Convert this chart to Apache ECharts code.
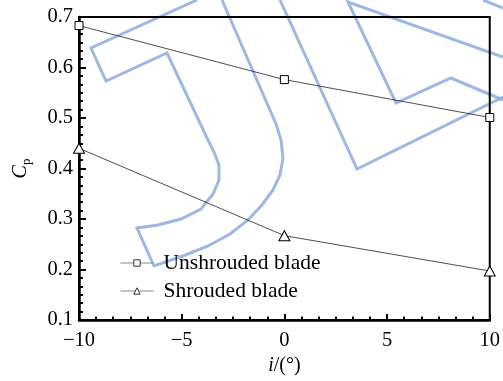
<!DOCTYPE html>
<html>
<head>
<meta charset="utf-8">
<script src="https://cdn.jsdelivr.net/npm/echarts@6/dist/echarts.min.js"></script>
<style>html,body{margin:0;padding:0;background:#fff;}#c{width:503px;height:381px;}</style>
</head>
<body>
<div id="c"></div>
<script>
var incidence = [-10, 0, 10];
var unshrouded = [0.683, 0.576, 0.501];
var shrouded = [0.440, 0.267, 0.197];
var xTicks = [-10, -5, 0, 5, 10];
var yTicks = [0.1, 0.2, 0.3, 0.4, 0.5, 0.6, 0.7];

function pairs(xs, ys) { return xs.map(function (x, i) { return [x, ys[i]]; }); }

var font = 'Liberation Serif';
var blue = 'rgba(140,172,222,0.85)';
function pl(points) {
  return { type: 'polyline', z: -10, silent: true,
    shape: { points: points },
    style: { stroke: blue, lineWidth: 3, fill: null, lineJoin: 'miter' } };
}

var chart = echarts.init(document.getElementById('c'), null, { renderer: 'canvas' });
chart.setOption({
  backgroundColor: '#fff',
  animation: false,
  graphic: [
    pl([[197,0],[91,48],[106,81],[167,53],[208,140],[214,152],[219,165],[219,180],[213,194],[201,209],[181,219],[158,225],[137,228],[154,266],[183,256],[208,246],[230,234],[248,220],[262,205],[273,190],[280,175],[283,158],[281,140],[276,124],[222,0]]),
    pl([[280,0],[357,169],[503,97]]),
    pl([[503,57],[348,2],[396,103],[451,78],[503,100]]),
    pl([[483,0],[503,8]])
  ],
  grid: { left: 79, right: 9, top: 17, bottom: 58, show: true, borderColor: '#000', borderWidth: 2, backgroundColor: 'transparent' },
  legend: {
    orient: 'vertical', left: 120, top: 252, padding: 0, itemWidth: 33, itemHeight: 8, itemGap: 6,
    textStyle: { fontFamily: font, fontSize: 21.5, color: '#000', padding: [0,0,0,5] },
    itemStyle: { color: '#fff', borderColor: '#000', borderWidth: 0.8 },
    lineStyle: { color: '#888', width: 1 },
    data: ['Unshrouded blade', 'Shrouded blade']
  },
  xAxis: {
    type: 'value', min: -10, max: 10, interval: 5,
    name: '{i|i}/(°)', nameLocation: 'middle', nameGap: 36,
    nameTextStyle: { fontFamily: font, fontSize: 20, color: '#000',
      rich: { i: { fontFamily: font, fontSize: 20, fontStyle: 'italic', color: '#000' } } },
    axisLine: { onZero: false, lineStyle: { color: '#000', width: 2.5 } },
    axisTick: { inside: true, length: 6, lineStyle: { color: '#000', width: 2 } },
    minorTick: { show: true, splitNumber: 6, length: 3.5, lineStyle: { color: '#000', width: 2 } },
    splitLine: { show: false },
    axisLabel: { fontFamily: font, fontSize: 20.5, color: '#000', margin: 10,
      formatter: function (v) { return xTicks.indexOf(v) >= 0 ? String(v).replace('-', '\u2212') : ''; } }
  },
  yAxis: {
    type: 'value', min: 0.1, max: 0.7, interval: 0.1,
    name: '{c|C}{p|p}', nameLocation: 'middle', nameGap: 46,
    nameTextStyle: { fontFamily: font, fontSize: 20, color: '#000',
      rich: { c: { fontFamily: font, fontSize: 20, fontStyle: 'italic', color: '#000' },
              p: { fontFamily: font, fontSize: 13, color: '#000', padding: [12,0,0,0] } } },
    axisLine: { onZero: false, lineStyle: { color: '#000', width: 2.5 } },
    axisTick: { inside: true, length: 7, lineStyle: { color: '#000', width: 2 } },
    minorTick: { show: true, splitNumber: 6, length: 4, lineStyle: { color: '#000', width: 2 } },
    splitLine: { show: false },
    axisLabel: { fontFamily: font, fontSize: 20.5, color: '#000', margin: 6,
      formatter: function (v) { return v.toFixed(1); } }
  },
  series: [
    { name: 'Unshrouded blade', type: 'line', data: pairs(incidence, unshrouded),
      symbol: 'rect', symbolSize: 8, lineStyle: { color: '#222', width: 0.8 },
      itemStyle: { color: '#fff', borderColor: '#000', borderWidth: 1 } },
    { name: 'Shrouded blade', type: 'line', data: pairs(incidence, shrouded),
      symbol: 'triangle', symbolSize: [11, 10], lineStyle: { color: '#222', width: 0.8 },
      itemStyle: { color: '#fff', borderColor: '#000', borderWidth: 1 } }
  ]
});
</script>
</body>
</html>
